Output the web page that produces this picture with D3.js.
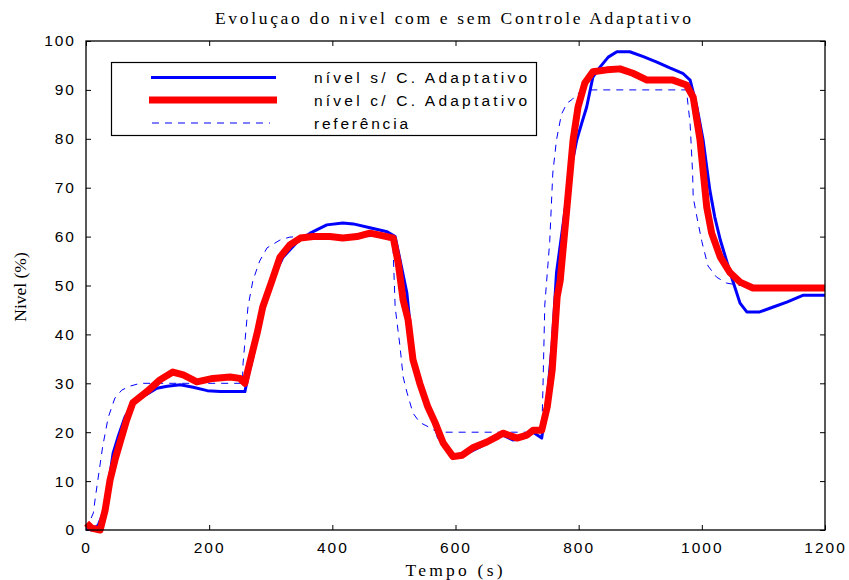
<!DOCTYPE html>
<html>
<head>
<meta charset="utf-8">
<script src="https://cdn.jsdelivr.net/npm/d3@7"></script>
<style>
  body { margin: 0; background: #fff; }
  text { fill: #000; }
</style>
</head>
<body>
<div id="chart"></div>
<script>
// Values: [tempo (s), nivel (%)]
var referencia = [
  [0, 0], [12, 3.5], [15, 6.5], [27, 17], [36, 23], [47, 27], [58, 28.6], [71, 29.4], [88, 30],
  [254, 30], [255, 34], [263, 45.6], [271, 51], [282, 55], [294, 57.7], [315, 59.3], [331, 59.9], [347, 60],
  [498, 60], [502, 45.6], [510, 37.4], [515, 31.3], [521, 28.2], [531, 23.9], [542, 22], [559, 20.9], [570, 20],
  [740, 20], [742, 29], [745, 46], [753, 59], [758, 73], [764, 79.8], [772, 85], [781, 87.3], [789, 88], [799, 89.3], [818, 90],
  [975, 90], [981, 83], [985, 73], [986, 68], [992, 64], [1000, 59], [1010, 54], [1024, 51.7], [1040, 50.5], [1062, 50], [1200, 50]
];

var semControle = [
  [1, 0.4], [9, 0], [20, 1], [28, 3.5], [36, 8.8], [44, 15.7], [52, 19], [63, 23], [76, 26], [93, 27.3],
  [115, 29], [132, 29.4], [153, 29.7], [174, 29.2], [197, 28.5], [218, 28.3], [258, 28.3],
  [263, 31.3], [271, 35.4], [287, 45], [304, 51.7], [320, 55.8], [343, 58.9], [364, 60.7], [391, 62.4],
  [417, 62.8], [434, 62.6], [461, 61.8], [489, 61], [502, 60],
  [510, 55.2], [521, 48.5], [531, 36.2], [542, 29.2], [559, 24.5], [572, 19], [586, 16.4], [602, 14.9],
  [619, 15.7], [640, 17], [661, 18.4], [677, 19.4], [693, 18.4], [710, 18.8], [726, 20], [740, 18.8],
  [749, 27], [757, 38], [764, 52.6], [775, 62.8], [786, 73], [797, 79.8], [805, 83.2], [813, 86.5],
  [823, 92.6], [835, 94.7], [848, 96.7], [862, 97.8], [883, 97.8], [905, 96.8], [927, 95.7], [948, 94.5],
  [969, 93.4], [981, 92], [992, 86.5], [1002, 79.8], [1013, 69.5], [1021, 64], [1030, 59.3], [1046, 52.6],
  [1062, 46.4], [1073, 44.6], [1094, 44.6], [1116, 45.6], [1138, 46.6], [1164, 48], [1200, 48]
];

var comControle = [
  [1, 1.4], [9, 0.4], [23, 0], [31, 4], [39, 10.2], [47, 14.3], [55, 17.8], [66, 22.5], [76, 26], [99, 28.3],
  [120, 30.7], [141, 32.3], [158, 31.7], [180, 30.3], [206, 31], [234, 31.3], [250, 31], [258, 30],
  [263, 32.7], [278, 40.3], [287, 45.6], [302, 51], [315, 55.8], [331, 58.3], [348, 59.7], [369, 60],
  [396, 60], [417, 59.7], [440, 60], [461, 60.7], [477, 60.3], [499, 59.7],
  [507, 54.6], [515, 47], [523, 43], [531, 34.8], [542, 30], [555, 25.2], [567, 21.9], [580, 17.8],
  [596, 15], [611, 15.3], [628, 16.8], [651, 18], [669, 19.2], [677, 19.8], [700, 18.8], [716, 19.4],
  [726, 20.4], [740, 20.4], [749, 25.2], [757, 32.7], [765, 47.6], [770, 51], [781, 66], [791, 79.8],
  [799, 86.5], [810, 91.4], [823, 93.7], [846, 94.1], [867, 94.3], [888, 93.4], [911, 92], [953, 92],
  [975, 91], [986, 88.5], [997, 79.8], [1008, 66], [1016, 60.7], [1030, 55.8], [1046, 52.6], [1062, 50.7],
  [1083, 49.5], [1200, 49.5]
];

var xTicks = [0, 200, 400, 600, 800, 1000, 1200];
var yTicks = [0, 10, 20, 30, 40, 50, 60, 70, 80, 90, 100];

var titulo = "Evoluçao do nivel com e sem Controle Adaptativo";
var xLabel = "Tempo (s)";
var yLabel = "Nivel (%)";
var legendas = ["nível s/ C. Adaptativo", "nível c/ C. Adaptativo", "referência"];

// Layout
var W = 849, H = 580
  , m = {top: 41, right: 24, bottom: 50, left: 86}
  , w = W - m.left - m.right
  , h = H - m.top - m.bottom;

var svg = d3.select("#chart").append("svg")
  .attr("width", W)
  .attr("height", H)
  .style("background", "#fff");

var g = svg.append("g").attr("transform", "translate(" + m.left + "," + m.top + ")");

var x = d3.scaleLinear().domain([0, 1200]).range([0, w]);
var y = d3.scaleLinear().domain([0, 100]).range([h, 0]);

var tickFont = "'Liberation Sans', Arial, sans-serif";
var serif = "'Liberation Serif', 'Times New Roman', serif";

// Axes, ticks pointing inward like matlab
function styleAxis(sel) {
  sel.select(".domain").remove();
  sel.selectAll(".tick line").attr("stroke", "#000").attr("stroke-width", 1);
  sel.selectAll("text")
    .style("font-family", tickFont)
    .style("font-size", "15.5px")
    .style("letter-spacing", "2px")
    .attr("fill", "#000");
}

g.append("g")
  .attr("transform", "translate(0," + h + ")")
  .call(d3.axisBottom(x).tickValues(xTicks).tickSize(-5).tickPadding(12).tickFormat(d3.format("d")))
  .call(styleAxis);

g.append("g")
  .call(d3.axisLeft(y).tickValues(yTicks).tickSize(-5).tickPadding(10).tickFormat(d3.format("d")))
  .call(styleAxis);

g.append("g")
  .call(d3.axisTop(x).tickValues(xTicks).tickSize(-5).tickFormat(""))
  .call(styleAxis);

g.append("g")
  .attr("transform", "translate(" + w + ",0)")
  .call(d3.axisRight(y).tickValues(yTicks).tickSize(-5).tickFormat(""))
  .call(styleAxis);

// Lines
var line = d3.line()
  .x(function(d) { return x(d[0]); })
  .y(function(d) { return y(d[1]); });

g.append("path")
  .datum(referencia)
  .attr("d", line)
  .attr("fill", "none")
  .attr("stroke", "#0000ff")
  .attr("stroke-width", 1)
  .attr("stroke-dasharray", "7,6");

g.append("path")
  .datum(semControle)
  .attr("d", line)
  .attr("fill", "none")
  .attr("stroke", "#0000ff")
  .attr("stroke-width", 3)
  .attr("stroke-linejoin", "round");

g.append("path")
  .datum(comControle)
  .attr("d", line)
  .attr("fill", "none")
  .attr("stroke", "#ff0000")
  .attr("stroke-width", 7)
  .attr("stroke-linejoin", "round");

// Box
g.append("rect")
  .attr("width", w)
  .attr("height", h)
  .attr("fill", "none")
  .attr("stroke", "#000")
  .attr("stroke-width", 1.3);

// Legend
var leg = svg.append("g");
leg.append("rect")
  .attr("x", 111.5).attr("y", 62.5)
  .attr("width", 425).attr("height", 73)
  .attr("fill", "#fff")
  .attr("stroke", "#000")
  .attr("stroke-width", 1.2);

var legStyles = [
  {color: "#0000ff", width: 3, dash: null, x1: 151, x2: 276, y: 77.5, tl: 213},
  {color: "#ff0000", width: 7, dash: null, x1: 149, x2: 277, y: 100, tl: 213},
  {color: "#0000ff", width: 1, dash: "7,6", x1: 152, x2: 270, y: 123, tl: 94}
];

legendas.forEach(function(txt, i) {
  var s = legStyles[i];
  leg.append("line")
    .attr("x1", s.x1).attr("x2", s.x2)
    .attr("y1", s.y).attr("y2", s.y)
    .attr("stroke", s.color)
    .attr("stroke-width", s.width)
    .attr("stroke-dasharray", s.dash);
  leg.append("text")
    .attr("x", 314)
    .attr("y", s.y + 5.5)
    .attr("textLength", s.tl)
    .attr("lengthAdjust", "spacing")
    .style("font-family", tickFont)
    .style("font-size", "15.5px")
    .text(txt);
});

// Title and axis labels
svg.append("text")
  .attr("x", 453).attr("y", 24)
  .attr("text-anchor", "middle")
  .attr("textLength", 476)
  .attr("lengthAdjust", "spacing")
  .style("font-family", serif)
  .style("font-size", "17.5px")
  .text(titulo);

svg.append("text")
  .attr("x", 454).attr("y", 576)
  .attr("text-anchor", "middle")
  .attr("textLength", 97)
  .attr("lengthAdjust", "spacing")
  .style("font-family", serif)
  .style("font-size", "17.5px")
  .text(xLabel);

svg.append("text")
  .attr("transform", "translate(26,287) rotate(-90)")
  .attr("text-anchor", "middle")
  .style("font-family", serif)
  .style("font-size", "17.5px")
  .text(yLabel);
</script>
</body>
</html>
